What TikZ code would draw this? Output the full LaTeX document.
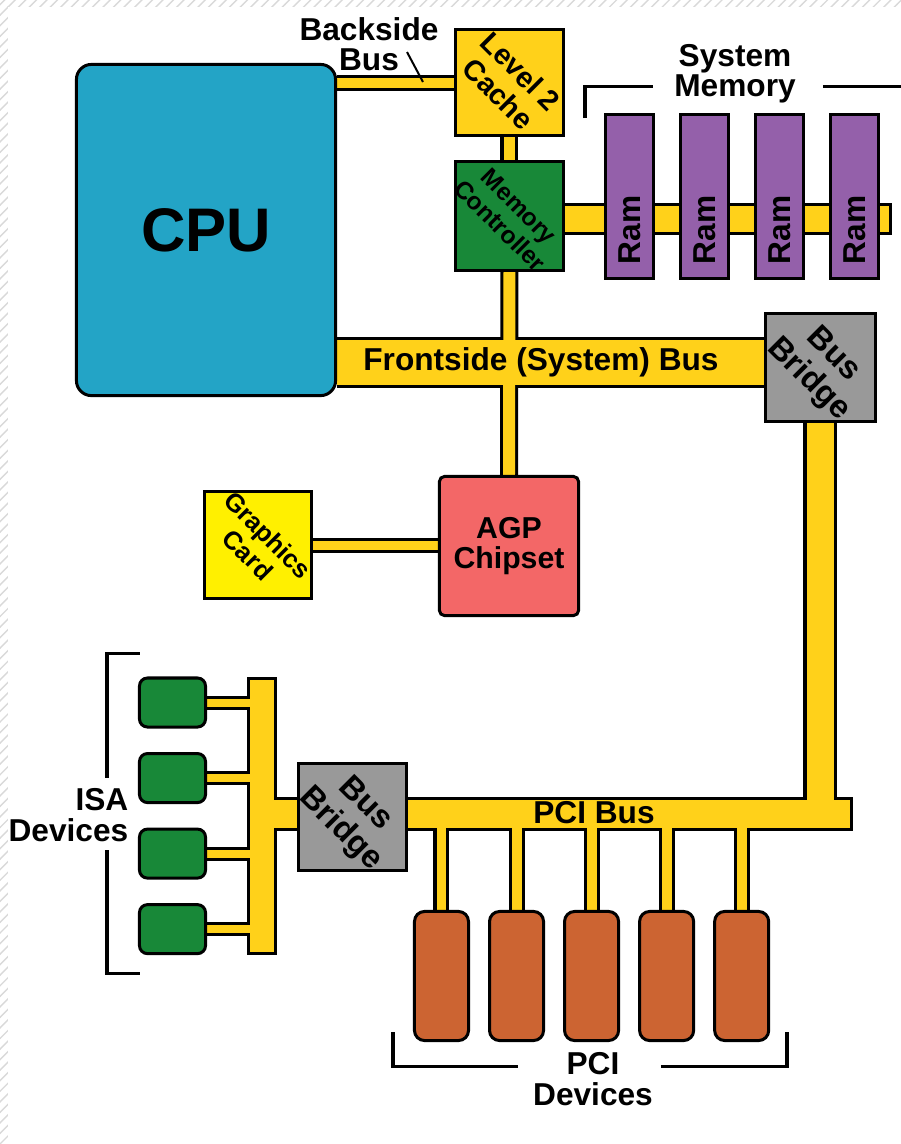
\documentclass[tikz,border=0pt]{standalone}
\usepackage{fontspec}
\setmainfont{Liberation Sans}
\usepackage{xcolor}
\usetikzlibrary{positioning,backgrounds,patterns}

\definecolor{busyellow}{RGB}{255,209,26}
\definecolor{cpublue}{RGB}{35,164,198}
\definecolor{ctrlgreen}{RGB}{24,136,56}
\definecolor{rampurple}{RGB}{148,96,170}
\definecolor{bridgegray}{RGB}{153,153,153}
\definecolor{agpred}{RGB}{243,103,103}
\definecolor{gfxyellow}{RGB}{255,240,0}
\definecolor{pciorange}{RGB}{204,100,50}

% every bus bar, drawn twice: black edge first, yellow core after
\newcommand{\busnet}{%
  \draw[bus=16] (cpu.east |- l2.west) -- (l2.west);
  \draw[bus=18] (l2.south) -- (memctrl.north);
  \draw[bus=18] (memctrl.south) -- (agp.north);
  \draw[bus=51] (cpu.east |- fsblabel) -- (bbtop.west |- fsblabel);
  \draw[bus=32,freeend] (memctrl.east |- ramend) -- (ramend);
  \draw[bus=15] (gfx.east) -- (agp.west |- gfx.east);
  \draw[bus=34] (bbtop.south) -- (bbtop.south |- pciend);
  \draw[bus=34,freeend] (bbbot.east |- pciend) -- (pciend);
  \draw[bus=34] (bbbot.west |- pciend) -- (isatop |- pciend);
  \draw[bus=30,freeend,freestart] (isatop) -- (isabot);
  \draw[bus=16] (pci1.north) -- (pci1.north |- pciend);
  \draw[bus=16] (pci2.north) -- (pci2.north |- pciend);
  \draw[bus=16] (pci3.north) -- (pci3.north |- pciend);
  \draw[bus=16] (pci4.north) -- (pci4.north |- pciend);
  \draw[bus=16] (pci5.north) -- (pci5.north |- pciend);
  \draw[bus=14] (isa1.east) -- (isatop |- isa1.east);
  \draw[bus=14] (isa2.east) -- (isatop |- isa2.east);
  \draw[bus=14] (isa3.east) -- (isatop |- isa3.east);
  \draw[bus=14] (isa4.east) -- (isatop |- isa4.east);
}

\begin{document}
\begin{tikzpicture}[
    x=0.01cm, y=-0.01cm,
    box/.style={draw,line width=0.03cm,inner sep=0pt},
    lbl/.style={font=\bfseries\fontsize{9}{8.6}\selectfont,align=center,inner sep=0pt},
    tilted/.style args={#1/#2}{align=center,inner sep=0pt,rotate=-45,font=\bfseries\fontsize{#1}{#2}\selectfont},
    ram/.style={box,fill=rampurple,minimum width=0.48cm,minimum height=1.64cm},
    isadev/.style={box,fill=ctrlgreen,rounded corners=0.08cm,minimum width=0.66cm,minimum height=0.49cm},
    pcidev/.style={box,fill=pciorange,rounded corners=0.1cm,minimum width=0.54cm,minimum height=1.29cm},
    bridge/.style={box,fill=bridgegray,minimum width=1.08cm,minimum height=1.07cm},
    bracket/.style={line width=0.03cm}
]
\useasboundingbox (0,0) rectangle (901,1144);

% boxes
\node[box,fill=cpublue,rounded corners=0.15cm,minimum width=2.59cm,minimum height=3.31cm,
      font=\bfseries\fontsize{17.5}{18}\selectfont] (cpu) at (206,230) {CPU};
\node[box,fill=busyellow,minimum width=1.08cm,minimum height=1.06cm] (l2) at (509.5,82.5) {};
\node[box,fill=ctrlgreen,minimum width=1.08cm,minimum height=1.09cm,below=0.23cm of l2] (memctrl) {};
\node[ram] (ram1) at (629.5,196.5) {};
\node[ram,right=0.24cm of ram1] (ram2) {};
\node[ram,right=0.24cm of ram2] (ram3) {};
\node[ram,right=0.24cm of ram3] (ram4) {};
\node[bridge,minimum width=1.10cm,minimum height=1.08cm] (bbtop) at (820.5,367.5) {};
\node[box,fill=agpred,rounded corners=0.05cm,minimum width=1.39cm,minimum height=1.39cm,
      font=\bfseries\fontsize{8.6}{8.6}\selectfont,align=center] (agp) at (509,546) {AGP\\Chipset};
\node[box,fill=gfxyellow,minimum width=1.07cm,minimum height=1.07cm] (gfx) at (258,545) {};
\node[bridge] (bbbot) at (352.5,817) {};
\node[isadev] (isa1) at (172.5,702.5) {};
\node[isadev,below=0.235cm of isa1] (isa2) {};
\node[isadev,below=0.235cm of isa2] (isa3) {};
\node[isadev,below=0.235cm of isa3] (isa4) {};
\node[pcidev] (pci1) at (441.5,976) {};
\node[pcidev,right=0.18cm of pci1] (pci2) {};
\node[pcidev,right=0.18cm of pci2] (pci3) {};
\node[pcidev,right=0.18cm of pci3] (pci4) {};
\node[pcidev,right=0.18cm of pci4] (pci5) {};

% texts inside the boxes
\node[tilted=8.2/9] (l2txt) at (l2) {Level 2\\Cache};
\node[tilted=7/7.8] (memctrltxt) at (memctrl) {Memory\\Controller};
\node[tilted=7.3/8] (gfxtxt) at (gfx) {Graphics\\Card};
\node[tilted=9.2/10] (bbtoptxt) at (bbtop) {Bus\\Bridge};
\node[tilted=9.2/10] (bbbottxt) at (bbbot) {Bus\\Bridge};
\node[lbl,rotate=90] (ramtxt1) at ([yshift=-0.335cm]ram1.center) {Ram};
\node[lbl,rotate=90] (ramtxt2) at ([yshift=-0.335cm]ram2.center) {Ram};
\node[lbl,rotate=90] (ramtxt3) at ([yshift=-0.335cm]ram3.center) {Ram};
\node[lbl,rotate=90] (ramtxt4) at ([yshift=-0.335cm]ram4.center) {Ram};

% labels
\node[lbl] (bsblabel) at (369,44) {Backside\\Bus};
\node[lbl] (smlabel) at (735,74) {System\\Memory};
\node[lbl] (fsblabel) at (541,362) {Frontside (System) Bus};
\node[lbl] (pcibuslabel) at (594,813) {PCI Bus};
\node[lbl,anchor=east,align=right] (isalabel) at (129,815) {ISA\\Devices};
\node[lbl] (pcilabel) at (593,1079) {PCI\\Devices};

\coordinate (ramend) at (892,219);
\coordinate (pciend) at (853,814);
\coordinate (isatop) at (262,677);
\coordinate (isabot) at (262,955);
\coordinate (tickfrom) at (407,52);
\coordinate (tickto) at (423,82);

\begin{scope}[on background layer]
  \fill[pattern=north east lines,pattern color=black!15] (0,0) rectangle (901,6);
  \fill[pattern=north east lines,pattern color=black!15] (0,6) rectangle (8,1144);
  \begin{scope}[bus/.style={draw=black,line width=#1*0.01cm},freeend/.style={},freestart/.style={}]
    \busnet
  \end{scope}
  \begin{scope}[bus/.style={draw=busyellow,line width=#1*0.01cm-0.06cm},
                freeend/.style={shorten >=0.03cm},freestart/.style={shorten <=0.03cm}]
    \busnet
  \end{scope}
\end{scope}

\draw[line width=0.02cm] (tickfrom) -- (tickto);

% brackets
\draw[bracket] (585,118) -- (585,86) -- (653,86);
\draw[bracket] (823,86) -- (901,86);
\draw[bracket] (140,653) -- (107,653) -- (107,778);
\draw[bracket] (107,850) -- (107,973) -- (140,973);
\draw[bracket] (393,1032) -- (393,1066) -- (518,1066);
\draw[bracket] (661,1066) -- (787,1066) -- (787,1032);
\end{tikzpicture}
\end{document}
